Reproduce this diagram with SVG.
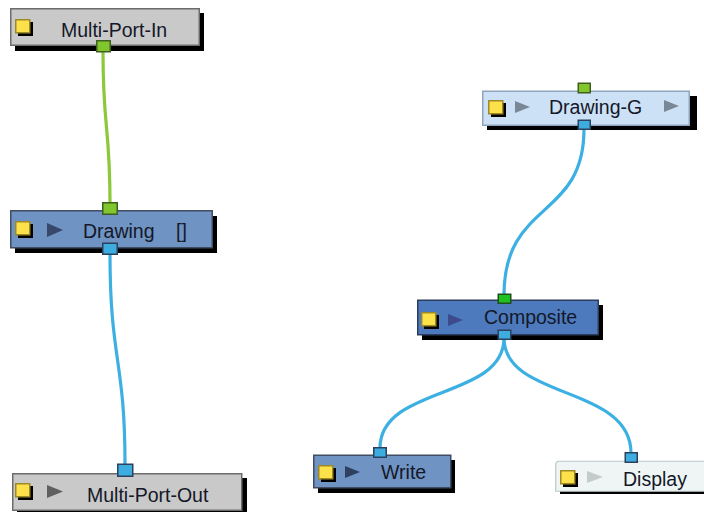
<svg xmlns="http://www.w3.org/2000/svg" xmlns:xlink="http://www.w3.org/1999/xlink" width="704" height="512" viewBox="0 0 704 512">
<style>
text{font-family:"Liberation Sans",Arial,sans-serif;font-size:19.5px;fill:#141828}
.sh{fill:#000}
.gray{fill:#c9c9c9;stroke:#6c6c6c;stroke-width:1.5}
.mid{fill:#6f93c3;stroke:#3f4c62;stroke-width:1.5}
.comp{fill:#4c7abd;stroke:#2c3c5c;stroke-width:1.5}
.light{fill:#cde1f6;stroke:#8fa5bd;stroke-width:1.5}
.disp{fill:#eff5f4;stroke:#bcc8c8;stroke-width:1.2}
.pg{fill:#80c62c;stroke:#3f5f20;stroke-width:1.5}
.pg2{fill:#1fc21f;stroke:#1f4f1f;stroke-width:1.5}
.pb{fill:#3daddf;stroke:#2b415e;stroke-width:1.5}
.wg{fill:none;stroke:#8bc83a;stroke-width:3.2}
.wb{fill:none;stroke:#3cb0e2;stroke-width:3.2}
</style>
<defs>
<g id="icon"><rect x="3" y="3" width="15" height="14" fill="#000"/><rect x="0.75" y="0.75" width="14" height="13" fill="#fce14b" stroke="#9c8a26" stroke-width="1.5"/></g>
</defs>
<g id="connectors">
<path class="wg" d="M103,52 C103,130 110,125 110,203"/>
<path class="wb" d="M110,254 C110,360 125,360 125,464"/>
<path class="wb" d="M584,129 C584,220 504,200 504,295"/>
<path class="wb" d="M504,338 C504,400 380,385 380,448"/>
<path class="wb" d="M504,338 C504,400 631,385 631,453"/>
</g>
<g id="multi-port-in">
<rect class="sh" x="15" y="13" width="189" height="38"/>
<rect class="gray" x="10.75" y="8.75" width="188.5" height="36.5"/>
<use xlink:href="#icon" x="15" y="19"/>
<text x="61" y="37">Multi-Port-In</text>
<rect class="pg" x="96.75" y="40.75" width="13.5" height="11"/>
</g>
<g id="drawing">
<rect class="sh" x="15" y="216" width="202" height="37"/>
<rect class="mid" x="10.75" y="210.75" width="201.5" height="37"/>
<use xlink:href="#icon" x="15" y="221"/>
<polygon points="47,223 63,230 47,237" fill="#38486a"/>
<text x="83" y="238">Drawing <tspan x="176">[]</tspan></text>
<rect class="pg" x="102.75" y="202.75" width="14.5" height="11.5"/>
<rect class="pb" x="102.75" y="243.25" width="14.5" height="11"/>
</g>
<g id="multi-port-out">
<rect class="sh" x="17" y="478" width="230" height="37"/>
<rect class="gray" x="12.75" y="473.75" width="229" height="36.5"/>
<use xlink:href="#icon" x="15" y="483"/>
<polygon points="47,485 63,491.5 47,498" fill="#606060"/>
<text x="87" y="502">Multi-Port-Out</text>
<rect class="pb" x="117.75" y="464.25" width="15" height="12"/>
</g>
<g id="drawing-g">
<rect class="sh" x="487" y="96" width="210" height="34"/>
<rect class="light" x="482.75" y="91.25" width="206.5" height="34"/>
<use xlink:href="#icon" x="488" y="100"/>
<polygon points="515,101 530,107 515,113" fill="#7a8797"/>
<polygon points="664,100 679,106 664,112" fill="#7a8797"/>
<text x="549" y="114">Drawing-G</text>
<rect class="pg" x="578.25" y="83.25" width="12" height="9.5"/>
<rect class="pb" x="578.25" y="120.25" width="12" height="9"/>
</g>
<g id="composite">
<rect class="sh" x="422" y="305" width="181" height="35"/>
<rect class="comp" x="417.75" y="300.25" width="180.5" height="34.5"/>
<use xlink:href="#icon" x="421" y="312"/>
<polygon points="448,314 463,320 448,326" fill="#3b4b8c"/>
<text x="484" y="324">Composite</text>
<rect class="pg2" x="498.25" y="294.25" width="12.5" height="9"/>
<rect class="pb" x="498.25" y="330.25" width="12.5" height="9"/>
</g>
<g id="write">
<rect class="sh" x="318" y="460" width="137" height="33"/>
<rect class="mid" x="313.75" y="455.25" width="137" height="32.5"/>
<use xlink:href="#icon" x="318" y="465"/>
<polygon points="345,466 360,472 345,478" fill="#2f3f5f"/>
<text x="381" y="479">Write</text>
<rect class="pb" x="373.75" y="447.75" width="12.5" height="9.5"/>
</g>
<g id="display">
<rect class="sh" x="560" y="465" width="150" height="29"/>
<path class="disp" d="M555.75,491.25 V464.5 Q555.75,461.25 559,461.25 H710 V491.25 Z"/>
<use xlink:href="#icon" x="560" y="470"/>
<polygon points="587,471 603,477 587,483" fill="#c3cbcb"/>
<text x="623" y="486">Display</text>
<rect class="pb" x="625.25" y="452.75" width="12" height="9.5"/>
</g>
</svg>
